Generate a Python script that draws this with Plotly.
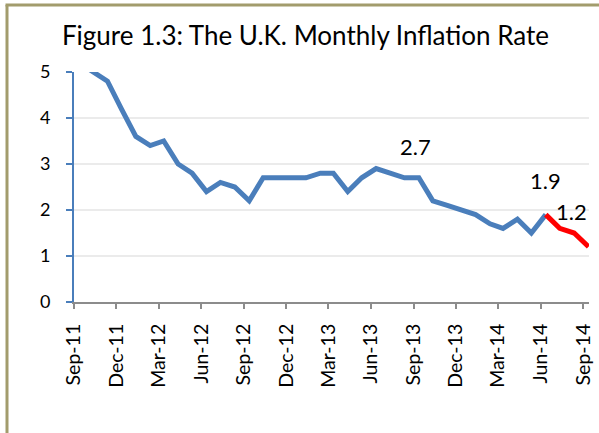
import plotly.graph_objects as go

# Data: UK monthly CPI inflation rate (%), Sep-2011 .. Sep-2014
months = ["2011-09", "2011-10", "2011-11", "2011-12", "2012-01", "2012-02", "2012-03",
          "2012-04", "2012-05", "2012-06", "2012-07", "2012-08", "2012-09", "2012-10",
          "2012-11", "2012-12", "2013-01", "2013-02", "2013-03", "2013-04", "2013-05",
          "2013-06", "2013-07", "2013-08", "2013-09", "2013-10", "2013-11", "2013-12",
          "2014-01", "2014-02", "2014-03", "2014-04", "2014-05", "2014-06", "2014-07",
          "2014-08", "2014-09"]
inflation = [5.2, 5.0, 4.8, 4.2, 3.6, 3.4, 3.5, 3.0, 2.8, 2.4, 2.6, 2.5, 2.2, 2.7,
             2.7, 2.7, 2.7, 2.8, 2.8, 2.4, 2.7, 2.9, 2.8, 2.7, 2.7, 2.2, 2.1, 2.0,
             1.9, 1.7, 1.6, 1.8, 1.5, 1.9, 1.6, 1.5, 1.2]
highlight_start = "2014-06"   # red segment starts here
labelled = {"2013-09": "2.7", "2014-06": "1.9", "2014-09": "1.2"}

dates = [m + "-12" for m in months]
split = months.index(highlight_start)

FONT = "Lato"
BLUE = "#4A7EBB"

fig = go.Figure()
fig.add_trace(go.Scatter(x=dates[:split + 1], y=inflation[:split + 1], mode="lines",
                         line=dict(color=BLUE, width=5), showlegend=False))
fig.add_trace(go.Scatter(x=dates[split:], y=inflation[split:], mode="lines",
                         line=dict(color="#FF0000", width=5), showlegend=False))

shifts = {"2013-09": (-3, 31), "2014-06": (0, 34), "2014-09": (-17, 35)}
for m, txt in labelled.items():
    i = months.index(m)
    dx, dy = shifts[m]
    fig.add_annotation(x=dates[i], y=inflation[i], text=txt, showarrow=False,
                       xshift=dx, yshift=dy, font=dict(family=FONT, size=22, color="black"))

# outer frame (left and top edges visible)
L, R, T, B = 74, 10, 72, 131
W, H = 599, 433
pw, ph = W - L - R, H - T - B
px = lambda v: (v - L) / pw
py = lambda v: (H - B - v) / ph
frame = "#A29C6C"
fig.add_shape(type="line", xref="paper", yref="paper", x0=px(7), x1=px(7), y0=py(5), y1=py(440),
              line=dict(color=frame, width=3))
fig.add_shape(type="line", xref="paper", yref="paper", x0=px(5.5), x1=px(610), y0=py(5), y1=py(5),
              line=dict(color=frame, width=3))

fig.update_layout(
    width=W, height=H,
    margin=dict(l=L, r=R, t=T, b=B),
    paper_bgcolor="white", plot_bgcolor="white",
    title=dict(text="Figure 1.3: The U.K. Monthly Inflation Rate", x=305.5 / W, xref="container",
               xanchor="center", y=1 - 36 / H, yanchor="middle",
               font=dict(family=FONT, size=26, color="black")),
    font=dict(family=FONT, color="black"),
    xaxis=dict(type="date", range=["2011-09-01", "2014-09-13"], tick0="2011-09-01", dtick="M3",
               tickformat="%b-%y", tickangle=-90, ticks="outside", ticklen=5, tickwidth=2,
               tickcolor="#8C8C8C", showline=True, linecolor="#8C8C8C", linewidth=2,
               showgrid=False, zeroline=False, tickfont=dict(family=FONT, size=19.5),
               ticklabelstandoff=7, automargin=False),
    yaxis=dict(range=[0, 5], dtick=1, ticks="outside", ticklen=6, tickwidth=2, tickcolor=BLUE,
               showline=True, linecolor=BLUE, linewidth=2, showgrid=True, gridcolor="#EBEBEB",
               gridwidth=2, zeroline=False, tickfont=dict(family=FONT, size=18),
               ticklabelstandoff=12, automargin=False),
)

fig.write_html("out.html", config={"displayModeBar": False},
               post_script="document.body.style.margin='0';")
